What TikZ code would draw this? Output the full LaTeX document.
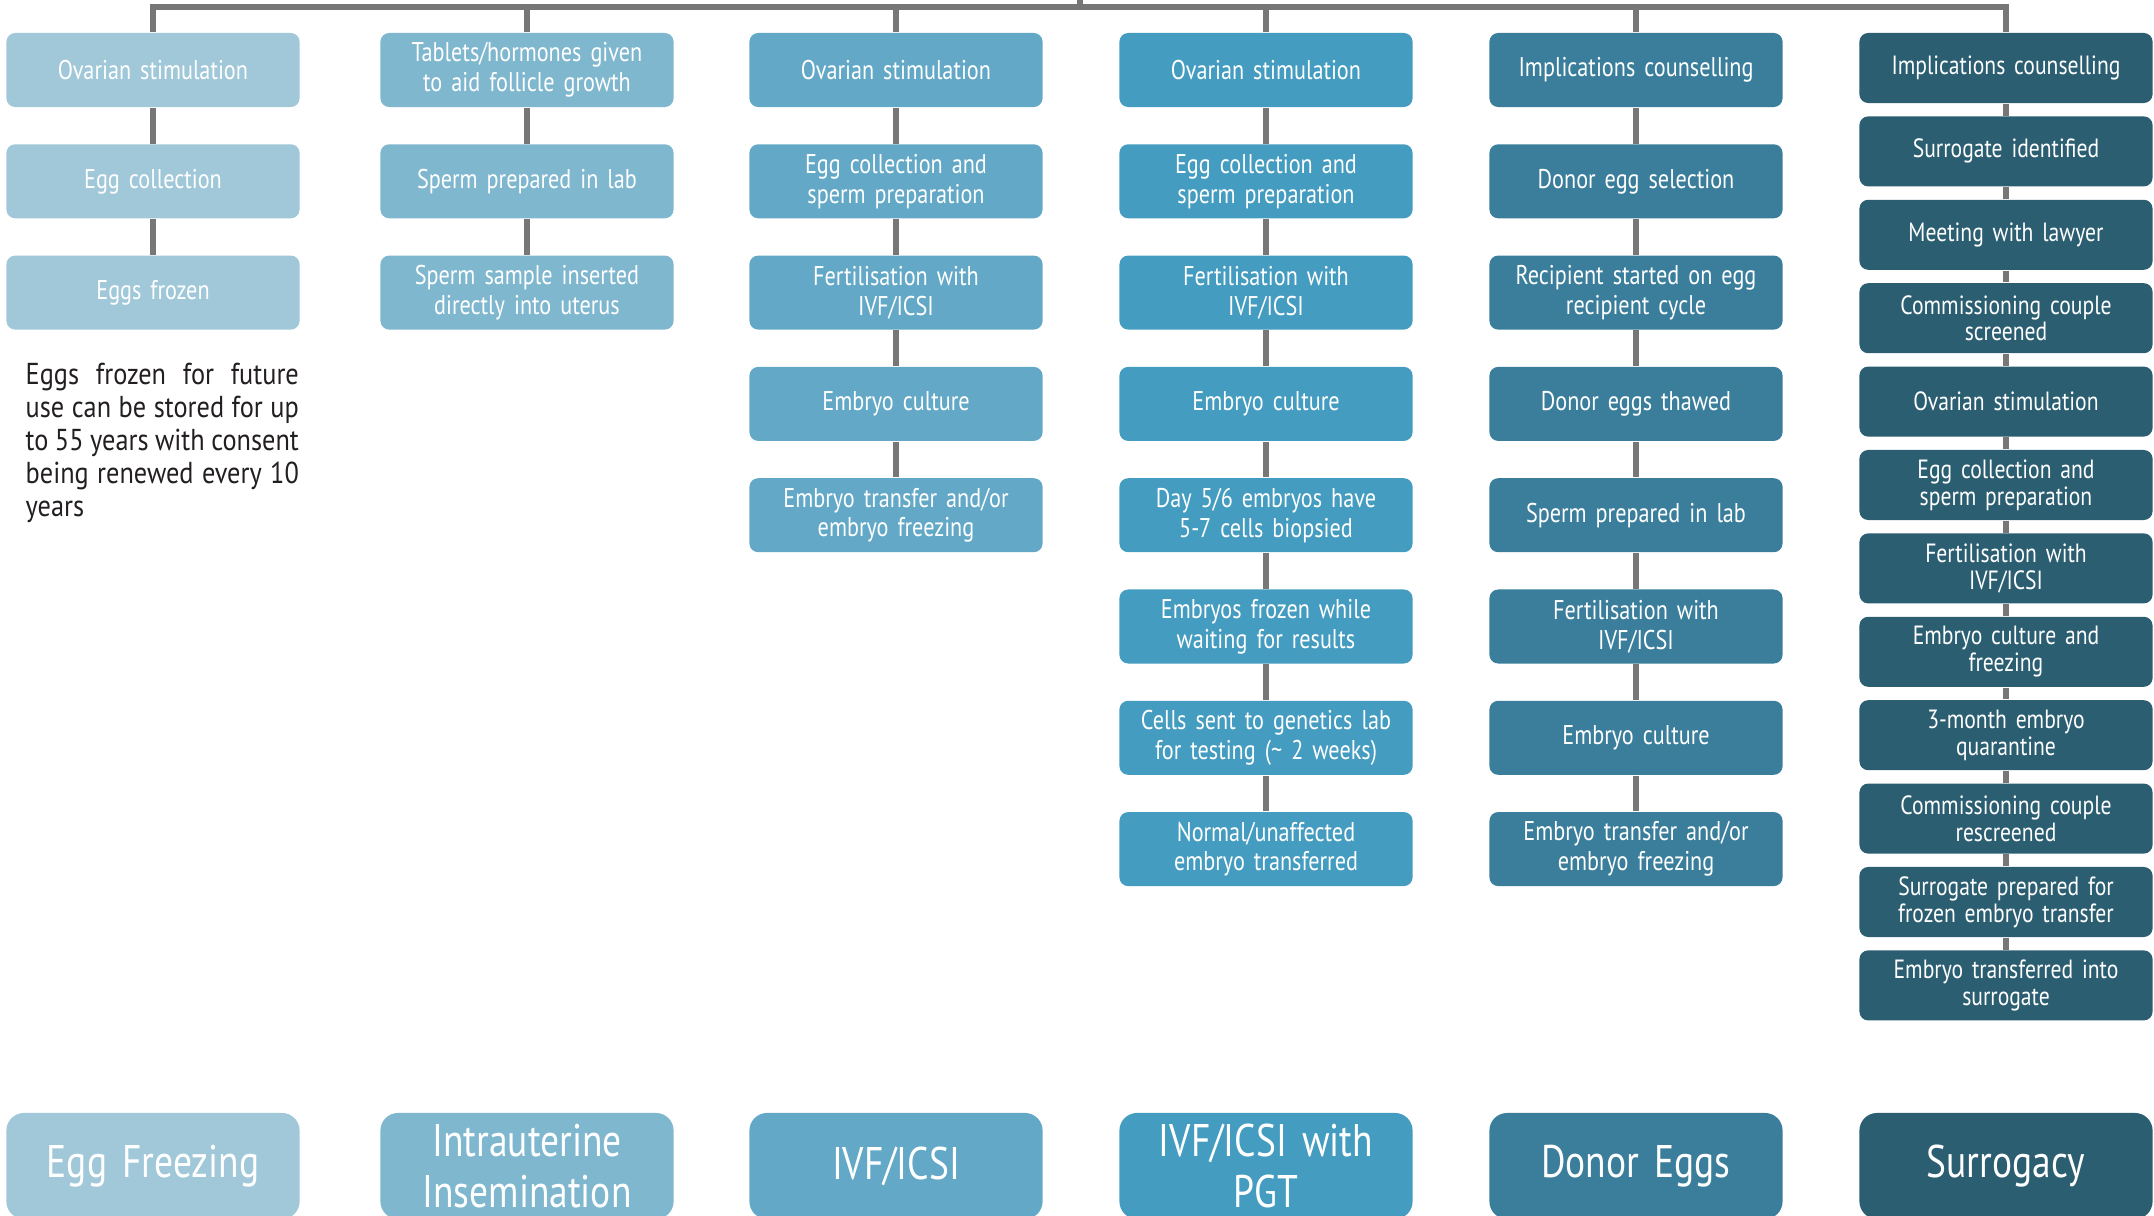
\documentclass[tikz,border=0pt]{standalone}
\usepackage{fontspec}
\setmainfont{PT Sans}[FakeStretch=0.82]
\newfontfamily\notefont{PT Sans}[FakeStretch=0.87]
\definecolor{colA}{HTML}{A0C8D9}
\definecolor{colB}{HTML}{7FB7CF}
\definecolor{colC}{HTML}{63A9C7}
\definecolor{colD}{HTML}{449CC0}
\definecolor{colE}{HTML}{3A7E9C}
\definecolor{colF}{HTML}{2B5E71}
\definecolor{linegray}{HTML}{777777}
\definecolor{notetext}{HTML}{231F20}

\begin{document}
\begin{tikzpicture}[x=0.01cm, y=-0.01cm,
    stage/.style={rounded corners=2.5pt, minimum width=2.93cm, minimum height=0.74cm,
      text width=2.85cm, align=center, inner sep=0pt, text=white,
      font=\fontsize{7.7}{8.5}\selectfont},
    surr/.style={stage, fill=colF, minimum height=0.70cm,
      font=\fontsize{7.5}{7.6}\selectfont},
    head/.style={rounded corners=5pt, minimum width=2.93cm, minimum height=1.06cm,
      text width=2.85cm, align=center, inner sep=0pt, text=white,
      font=\fontsize{13}{14.5}\selectfont},
    link/.style={draw=linegray, line width=1.5pt, line join=miter}]
    \useasboundingbox (0,0) rectangle (2154,1216);
    \clip (0,0) rectangle (2154,1216);
    \fill[white] (0,0) rectangle (2154,1216);

    \node[stage, fill=colA] (ef1) at (153,70) {Ovarian stimulation};
    \node[stage, fill=colA] (ef2) at (153,181.3) {Egg collection};
    \node[stage, fill=colA] (ef3) at (153,292.6) {Eggs frozen};
    \node[anchor=north west, text width=2.73cm, align=justify, inner sep=0pt,
      text=notetext, font=\notefont\fontsize{8.6}{9.4}\selectfont] (efnote) at (25,362)
      {Eggs frozen for future use can be stored for up to 55 years with consent being renewed every 10 years};

    \node[stage, fill=colB] (iu1) at (527,70) {Tablets/hormones given\\to aid follicle growth};
    \node[stage, fill=colB] (iu2) at (527,181.3) {Sperm prepared in lab};
    \node[stage, fill=colB] (iu3) at (527,292.6) {Sperm sample inserted\\directly into uterus};

    \node[stage, fill=colC] (iv1) at (896,70) {Ovarian stimulation};
    \node[stage, fill=colC] (iv2) at (896,181.3) {Egg collection and\\sperm preparation};
    \node[stage, fill=colC] (iv3) at (896,292.6) {Fertilisation with\\IVF/ICSI};
    \node[stage, fill=colC] (iv4) at (896,403.9) {Embryo culture};
    \node[stage, fill=colC] (iv5) at (896,515.2) {Embryo transfer and/or\\embryo freezing};

    \node[stage, fill=colD] (pg1) at (1266,70) {Ovarian stimulation};
    \node[stage, fill=colD] (pg2) at (1266,181.3) {Egg collection and\\sperm preparation};
    \node[stage, fill=colD] (pg3) at (1266,292.6) {Fertilisation with\\IVF/ICSI};
    \node[stage, fill=colD] (pg4) at (1266,403.9) {Embryo culture};
    \node[stage, fill=colD] (pg5) at (1266,515.2) {Day 5/6 embryos have\\5-7 cells biopsied};
    \node[stage, fill=colD] (pg6) at (1266,626.5) {Embryos frozen while\\waiting for results};
    \node[stage, fill=colD] (pg7) at (1266,737.8) {Cells sent to genetics lab\\for testing (\textasciitilde{} 2 weeks)};
    \node[stage, fill=colD] (pg8) at (1266,849.1) {Normal/unaffected\\embryo transferred};

    \node[stage, fill=colE] (de1) at (1636,70) {Implications counselling};
    \node[stage, fill=colE] (de2) at (1636,181.3) {Donor egg selection};
    \node[stage, fill=colE] (de3) at (1636,292.6) {Recipient started on egg\\recipient cycle};
    \node[stage, fill=colE] (de4) at (1636,403.9) {Donor eggs thawed};
    \node[stage, fill=colE] (de5) at (1636,515.2) {Sperm prepared in lab};
    \node[stage, fill=colE] (de6) at (1636,626.5) {Fertilisation with\\IVF/ICSI};
    \node[stage, fill=colE] (de7) at (1636,737.8) {Embryo culture};
    \node[stage, fill=colE] (de8) at (1636,849.1) {Embryo transfer and/or\\embryo freezing};

    \node[surr] (su1) at (2006,68) {Implications counselling};
    \node[surr] (su2) at (2006,151.4) {Surrogate identified};
    \node[surr] (su3) at (2006,234.8) {Meeting with lawyer};
    \node[surr] (su4) at (2006,318.2) {Commissioning couple\\screened};
    \node[surr] (su5) at (2006,401.6) {Ovarian stimulation};
    \node[surr] (su6) at (2006,485) {Egg collection and\\sperm preparation};
    \node[surr] (su7) at (2006,568.4) {Fertilisation with\\IVF/ICSI};
    \node[surr] (su8) at (2006,651.8) {Embryo culture and\\freezing};
    \node[surr] (su9) at (2006,735.2) {3-month embryo\\quarantine};
    \node[surr] (su10) at (2006,818.6) {Commissioning couple\\rescreened};
    \node[surr] (su11) at (2006,902) {Surrogate prepared for\\frozen embryo transfer};
    \node[surr] (su12) at (2006,985.4) {Embryo transferred into\\surrogate};

    \node[head, fill=colA] (hef) at (153,1166) {Egg Freezing};
    \node[head, fill=colB] (hiu) at (527,1166) {Intrauterine\\Insemination};
    \node[head, fill=colC] (hiv) at (896,1166) {IVF/ICSI};
    \node[head, fill=colD] (hpg) at (1266,1166) {IVF/ICSI with\\PGT};
    \node[head, fill=colE] (hde) at (1636,1166) {Donor Eggs};
    \node[head, fill=colF] (hsu) at (2006,1166) {Surrogacy};

    \coordinate (top) at (1080,0);
    \coordinate (bar) at (1080,7);
    \draw[link] (bar) -- (top);
    \draw[link] (ef1.north) |- (bar) -| (su1.north);
    \draw[link] (iu1.north) -- (iu1.north |- bar);
    \draw[link] (iv1.north) -- (iv1.north |- bar);
    \draw[link] (pg1.north) -- (pg1.north |- bar);
    \draw[link] (de1.north) -- (de1.north |- bar);

    \draw[link] (ef1) -- (ef2);
    \draw[link] (ef2) -- (ef3);
    \draw[link] (iu1) -- (iu2);
    \draw[link] (iu2) -- (iu3);
    \draw[link] (iv1) -- (iv2);
    \draw[link] (iv2) -- (iv3);
    \draw[link] (iv3) -- (iv4);
    \draw[link] (iv4) -- (iv5);
    \draw[link] (pg1) -- (pg2);
    \draw[link] (pg2) -- (pg3);
    \draw[link] (pg3) -- (pg4);
    \draw[link] (pg4) -- (pg5);
    \draw[link] (pg5) -- (pg6);
    \draw[link] (pg6) -- (pg7);
    \draw[link] (pg7) -- (pg8);
    \draw[link] (de1) -- (de2);
    \draw[link] (de2) -- (de3);
    \draw[link] (de3) -- (de4);
    \draw[link] (de4) -- (de5);
    \draw[link] (de5) -- (de6);
    \draw[link] (de6) -- (de7);
    \draw[link] (de7) -- (de8);
    \draw[link] (su1) -- (su2);
    \draw[link] (su2) -- (su3);
    \draw[link] (su3) -- (su4);
    \draw[link] (su4) -- (su5);
    \draw[link] (su5) -- (su6);
    \draw[link] (su6) -- (su7);
    \draw[link] (su7) -- (su8);
    \draw[link] (su8) -- (su9);
    \draw[link] (su9) -- (su10);
    \draw[link] (su10) -- (su11);
    \draw[link] (su11) -- (su12);
\end{tikzpicture}
\end{document}
